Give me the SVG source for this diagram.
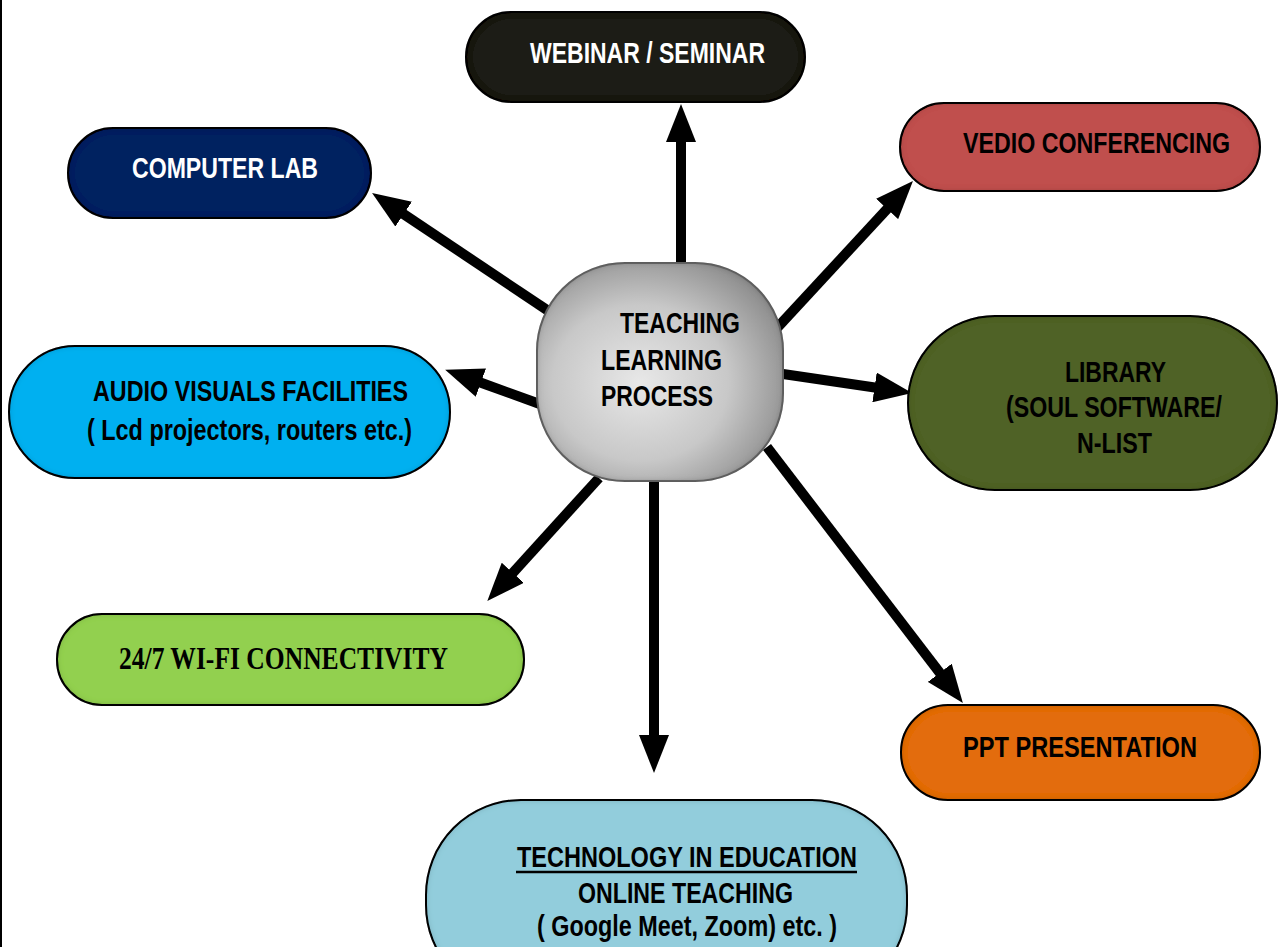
<svg xmlns="http://www.w3.org/2000/svg" width="1278" height="947" viewBox="0 0 1278 947">
<style>
.t{font-family:"Liberation Sans Narrow","Liberation Sans",Arial,sans-serif;font-weight:bold;font-size:29px;fill:#000}
.w{fill:#fff}
.serif{font-family:"Liberation Serif","Times New Roman",serif;font-weight:bold;font-size:31px;fill:#000}
.box{stroke:#000;stroke-width:2}
.conn line{stroke:#000;stroke-width:10;marker-end:url(#ah)}
</style>
<defs>
<marker id="ah" markerUnits="userSpaceOnUse" viewBox="0 0 38 30" markerWidth="38" markerHeight="30" refX="2" refY="15" orient="auto">
<path d="M0,0 L38,15 L0,30 z" fill="#000"/>
</marker>
<filter id="inset" x="-5%" y="-5%" width="110%" height="110%">
<feComponentTransfer in="SourceAlpha" result="inv"><feFuncA type="table" tableValues="1 0"/></feComponentTransfer>
<feGaussianBlur in="inv" stdDeviation="3" result="blur"/>
<feFlood flood-color="#000" flood-opacity="0.55"/>
<feComposite in2="blur" operator="in"/>
<feComposite in2="SourceAlpha" operator="in" result="sh"/>
<feMerge><feMergeNode in="SourceGraphic"/><feMergeNode in="sh"/></feMerge>
</filter>
<radialGradient id="gray" cx="0.42" cy="0.55" r="0.65">
<stop offset="0" stop-color="#e8e8e8"/>
<stop offset="0.55" stop-color="#c8c8c8"/>
<stop offset="1" stop-color="#8a8a8a"/>
</radialGradient>
</defs>
<rect x="0" y="0" width="1278" height="947" fill="#fff"/>
<line x1="1" y1="0" x2="1" y2="947" stroke="#000" stroke-width="2"/>

<g class="conn" id="connectors">
<line x1="681" y1="264" x2="681" y2="140"/>
<line x1="556" y1="316" x2="402" y2="213"/>
<line x1="777" y1="328" x2="888.5" y2="207.5"/>
<line x1="548" y1="407" x2="479" y2="382"/>
<line x1="783" y1="374" x2="876.5" y2="387.7"/>
<line x1="599" y1="478" x2="511.5" y2="574.3"/>
<line x1="654" y1="480" x2="654" y2="737"/>
<line x1="767" y1="447" x2="941" y2="674.4"/>
</g>

<g id="center">
<rect x="537" y="263" width="246" height="218" rx="88" ry="88" fill="url(#gray)" stroke="#6a6a6a" stroke-width="2" filter="url(#inset)"/>
<text class="t" x="620" y="333" textLength="120" lengthAdjust="spacingAndGlyphs">TEACHING</text>
<text class="t" x="601" y="370" textLength="121" lengthAdjust="spacingAndGlyphs">LEARNING</text>
<text class="t" x="601" y="406" textLength="112" lengthAdjust="spacingAndGlyphs">PROCESS</text>
</g>

<g id="webinar">
<rect class="box" x="466" y="12" width="339" height="90" rx="45" fill="#1f1a13" filter="url(#inset)"/>
<text class="t w" x="530" y="63" textLength="235" lengthAdjust="spacingAndGlyphs">WEBINAR / SEMINAR</text>
</g>

<g id="computer-lab">
<rect class="box" x="68" y="128" width="303" height="90" rx="45" fill="#002060" filter="url(#inset)"/>
<text class="t w" x="132" y="178" textLength="186" lengthAdjust="spacingAndGlyphs">COMPUTER LAB</text>
</g>

<g id="vedio">
<rect class="box" x="900" y="103" width="360" height="88" rx="44" fill="#c0504d" filter="url(#inset)"/>
<text class="t" x="963" y="153" textLength="267" lengthAdjust="spacingAndGlyphs">VEDIO CONFERENCING</text>
</g>

<g id="audio">
<rect class="box" x="9" y="346" width="441" height="132" rx="66" fill="#00b0f0" filter="url(#inset)"/>
<text class="t" x="93" y="401" textLength="315" lengthAdjust="spacingAndGlyphs">AUDIO VISUALS FACILITIES</text>
<text class="t" x="87" y="440" textLength="325" lengthAdjust="spacingAndGlyphs">( Lcd projectors, routers etc.)</text>
</g>

<g id="library">
<rect class="box" x="908" y="316" width="369" height="174" rx="87" fill="#4f6228" filter="url(#inset)"/>
<text class="t" x="1065" y="382" textLength="101" lengthAdjust="spacingAndGlyphs">LIBRARY</text>
<text class="t" x="1006" y="417" textLength="216" lengthAdjust="spacingAndGlyphs">(SOUL SOFTWARE/</text>
<text class="t" x="1077" y="453" textLength="75" lengthAdjust="spacingAndGlyphs">N-LIST</text>
</g>

<g id="wifi">
<rect class="box" x="57" y="614" width="467" height="91" rx="45" fill="#92d050" filter="url(#inset)"/>
<text class="serif" x="119" y="669" textLength="329" lengthAdjust="spacingAndGlyphs">24/7 WI-FI CONNECTIVITY</text>
</g>

<g id="ppt">
<rect class="box" x="901" y="705" width="359" height="95" rx="47" fill="#e36c09" filter="url(#inset)"/>
<text class="t" x="963" y="757" textLength="234" lengthAdjust="spacingAndGlyphs">PPT PRESENTATION</text>
</g>

<g id="technology">
<rect class="box" x="426" y="800" width="481" height="200" rx="95" fill="#92cddc" filter="url(#inset)"/>
<text class="t" x="517" y="867" textLength="340" lengthAdjust="spacingAndGlyphs">TECHNOLOGY IN EDUCATION</text>
<line x1="516" y1="872" x2="857" y2="872" stroke="#000" stroke-width="2.5"/>
<text class="t" x="578" y="903" textLength="215" lengthAdjust="spacingAndGlyphs">ONLINE TEACHING</text>
<text class="t" x="537" y="936" textLength="300" lengthAdjust="spacingAndGlyphs">( Google Meet, Zoom) etc. )</text>
</g>
</svg>
